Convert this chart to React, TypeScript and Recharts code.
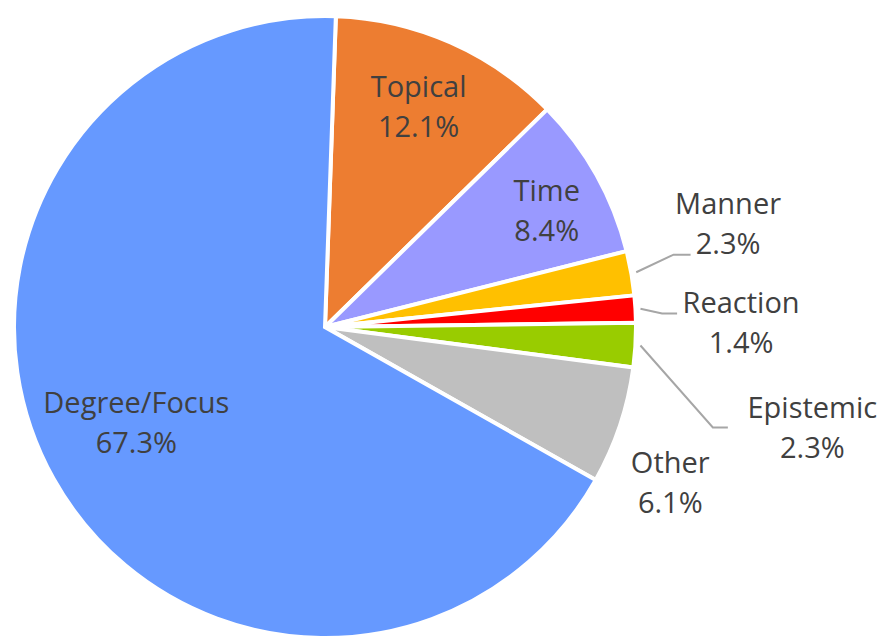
import React from "react";
import { PieChart, Pie, Cell } from "recharts";

const NAMES = ["Topical", "Time", "Manner", "Reaction", "Epistemic", "Other", "Degree/Focus"];
const VALUES = [12.1, 8.4, 2.3, 1.4, 2.3, 6.1, 67.3];
const COLORS = ["#ED7D31", "#9999FF", "#FFC000", "#FF0000", "#99CC00", "#BFBFBF", "#6699FF"];

const data = NAMES.map((name, i) => ({ name, value: VALUES[i] }));

// label placement: radius factor, angle shift (deg), optional leader line end offset from label centre
type LabelLayout = { r: number; shift: number; line?: { ex: number; ey: number; elbow: number } };
const LABEL_LAYOUT: LabelLayout[] = [
  { r: 0.77, shift: 0.8 },
  { r: 0.805, shift: -1.6 },
  { r: 1.338, shift: 4.4, line: { ex: -37.5, ey: 31, elbow: 17 } },
  { r: 1.338, shift: -2.7, line: { ex: -64, ey: -9, elbow: 15 } },
  { r: 1.6, shift: -8.3, line: { ex: -84.5, ey: 0, elbow: 15 } },
  { r: 1.218, shift: -5.8 },
  { r: 0.68, shift: -2.4 },
];

const RAD = Math.PI / 180;
const polar = (cx: number, cy: number, r: number, a: number) => ({
  x: cx + r * Math.cos(-a * RAD),
  y: cy + r * Math.sin(-a * RAD),
});

const renderLabel = (props: any) => {
  const { cx, cy, midAngle, outerRadius, index, value, name } = props;
  const lay = LABEL_LAYOUT[index];
  const p = polar(cx, cy, outerRadius * lay.r, midAngle + lay.shift);
  let line = null;
  if (lay.line) {
    const s = polar(cx, cy, outerRadius + 5, midAngle);
    const ex = p.x + lay.line.ex;
    const ey = p.y + lay.line.ey;
    line = (
      <polyline
        points={`${s.x},${s.y} ${ex - lay.line.elbow},${ey} ${ex},${ey}`}
        fill="none"
        stroke="#A6A6A6"
        strokeWidth={2}
      />
    );
  }
  return (
    <g key={`lbl-${index}`}>
      {line}
      <text x={p.x} y={p.y - 9.5} textAnchor="middle" fill="#404040" fontSize={29} fontFamily="'Open Sans', sans-serif">
        <tspan x={p.x}>{name}</tspan>
        <tspan x={p.x} dy={40}>{value.toFixed(1)}%</tspan>
      </text>
    </g>
  );
};

export default function App() {
  return (
    <div style={{ position: "absolute", left: 0, top: 0, width: 880, height: 637, background: "#fff" }}>
      <PieChart width={880} height={637} margin={{ top: 0, right: 0, bottom: 0, left: 0 }}>
        <Pie
          data={data}
          dataKey="value"
          nameKey="name"
          cx={325}
          cy={327}
          outerRadius={311}
          startAngle={88}
          endAngle={88 - 360}
          stroke="#FFFFFF"
          strokeWidth={4}
          label={renderLabel}
          labelLine={false}
          isAnimationActive={false}
        >
          {data.map((entry, index) => (
            <Cell key={`cell-${index}`} fill={COLORS[index]} />
          ))}
        </Pie>
      </PieChart>
    </div>
  );
}
